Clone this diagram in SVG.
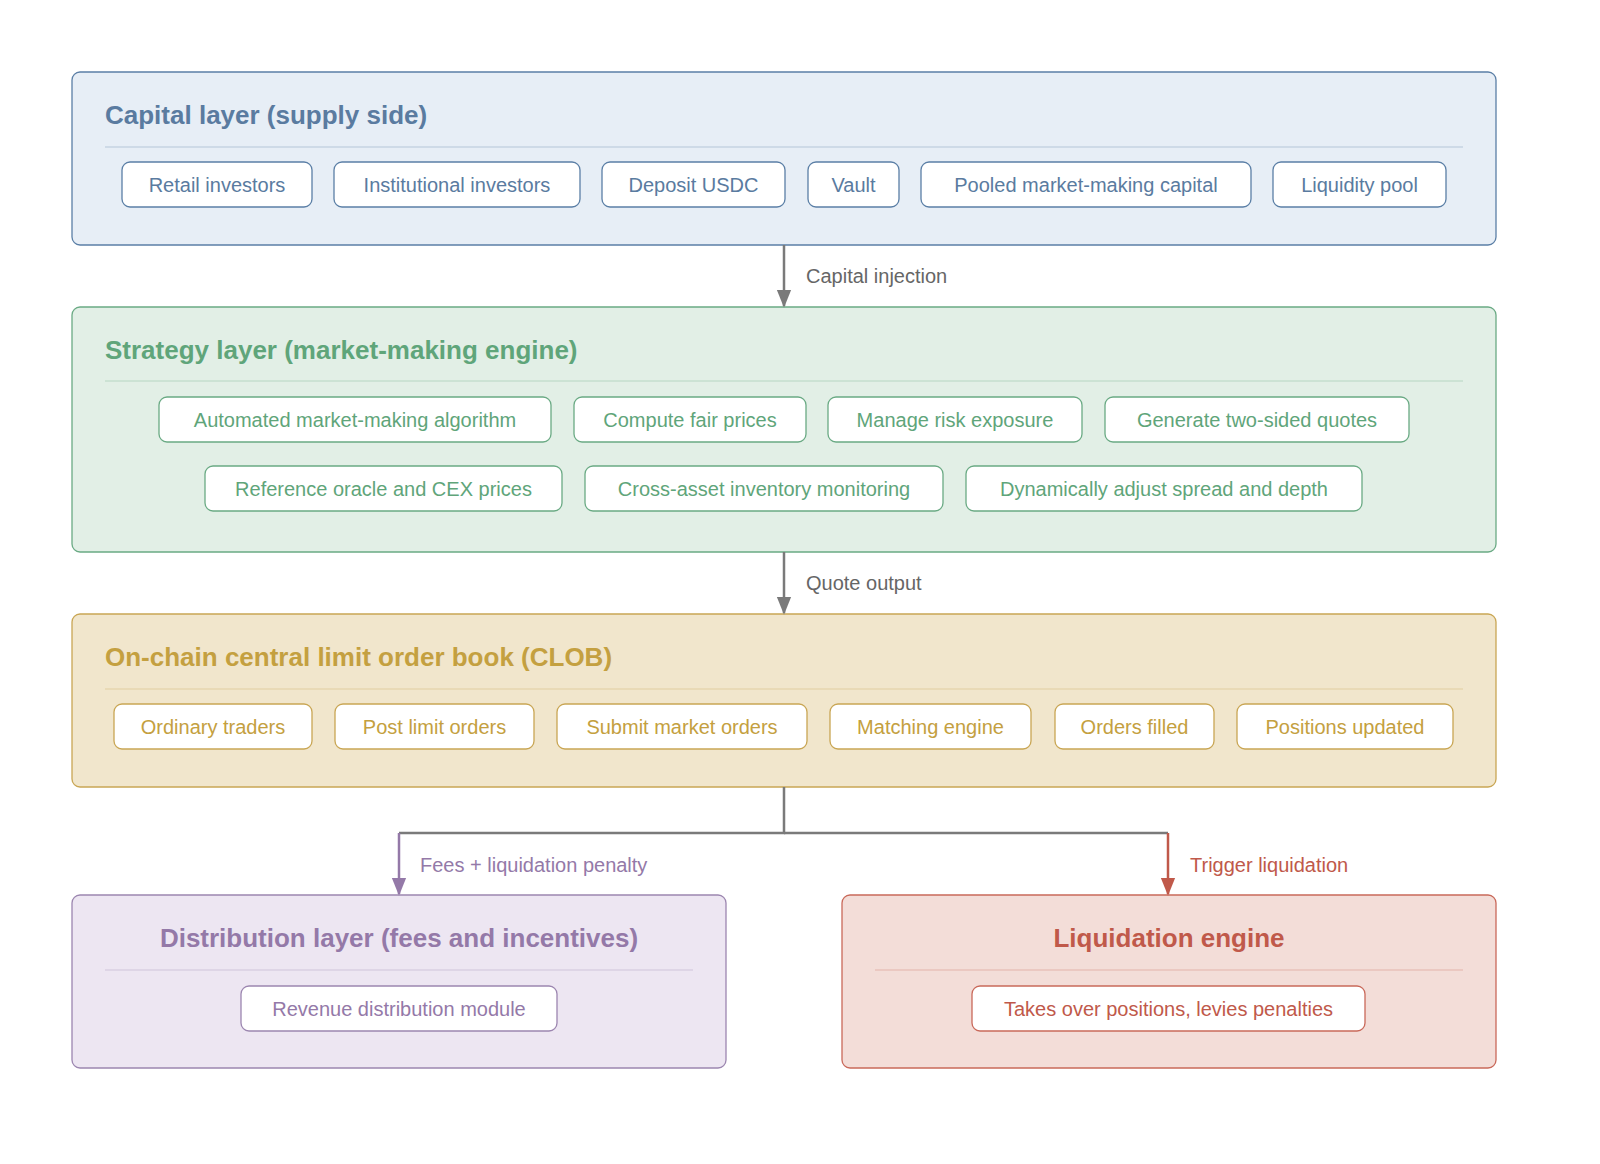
<svg xmlns="http://www.w3.org/2000/svg" width="1600" height="1164" viewBox="0 0 1600 1164">
<defs>
<marker id="ag" viewBox="0 0 10 10" refX="9" refY="5" markerWidth="18" markerHeight="18" markerUnits="userSpaceOnUse" orient="auto"><path d="M0,1 L10,5 L0,9 z" fill="#7a7a7a"/></marker>
<marker id="ap" viewBox="0 0 10 10" refX="9" refY="5" markerWidth="18" markerHeight="18" markerUnits="userSpaceOnUse" orient="auto"><path d="M0,1 L10,5 L0,9 z" fill="#9479a8"/></marker>
<marker id="ar" viewBox="0 0 10 10" refX="9" refY="5" markerWidth="18" markerHeight="18" markerUnits="userSpaceOnUse" orient="auto"><path d="M0,1 L10,5 L0,9 z" fill="#c0594a"/></marker>
</defs>
<style>
text{font-family:"Liberation Sans",Arial,sans-serif}
.t{font-size:26px;font-weight:bold}
.c{font-size:20px;text-anchor:middle;dominant-baseline:central}
.chip{fill:#fff;stroke-width:1.3}
.sep{stroke-width:1;opacity:.35}
.lbl{font-size:20px;fill:#666}
.b{stroke:#5b7fa6}.bt{fill:#5a7ba0}
.g{stroke:#6aaa84}.gt{fill:#5fa57a}
.y{stroke:#c9a654}.yt{fill:#c4a040}
.p{stroke:#9c86b0}.pt{fill:#9479a8}
.r{stroke:#c9695a}.rt{fill:#c0594a}
</style>
<rect width="1600" height="1164" fill="#fff"/>
<g id="capital">
<rect x="72" y="72" width="1424" height="173" rx="8" fill="#e7eef6" class="b" stroke-width="1.3"/>
<text x="105" y="124" class="t bt">Capital layer (supply side)</text>
<line x1="105" y1="147" x2="1463" y2="147" class="sep b"/>
<rect x="122" y="162" width="190" height="45" rx="8" class="chip b"/><text x="217" y="185" class="c bt">Retail investors</text>
<rect x="334" y="162" width="246" height="45" rx="8" class="chip b"/><text x="457" y="185" class="c bt">Institutional investors</text>
<rect x="602" y="162" width="183" height="45" rx="8" class="chip b"/><text x="693.5" y="185" class="c bt">Deposit USDC</text>
<rect x="808" y="162" width="91" height="45" rx="8" class="chip b"/><text x="853.5" y="185" class="c bt">Vault</text>
<rect x="921" y="162" width="330" height="45" rx="8" class="chip b"/><text x="1086" y="185" class="c bt">Pooled market-making capital</text>
<rect x="1273" y="162" width="173" height="45" rx="8" class="chip b"/><text x="1359.5" y="185" class="c bt">Liquidity pool</text>
</g>
<g id="strategy">
<rect x="72" y="307" width="1424" height="245" rx="8" fill="#e2efe6" class="g" stroke-width="1.3"/>
<text x="105" y="359" class="t gt">Strategy layer (market-making engine)</text>
<line x1="105" y1="381" x2="1463" y2="381" class="sep g"/>
<rect x="159" y="397" width="392" height="45" rx="8" class="chip g"/><text x="355" y="420" class="c gt">Automated market-making algorithm</text>
<rect x="574" y="397" width="232" height="45" rx="8" class="chip g"/><text x="690" y="420" class="c gt">Compute fair prices</text>
<rect x="828" y="397" width="254" height="45" rx="8" class="chip g"/><text x="955" y="420" class="c gt">Manage risk exposure</text>
<rect x="1105" y="397" width="304" height="45" rx="8" class="chip g"/><text x="1257" y="420" class="c gt">Generate two-sided quotes</text>
<rect x="205" y="466" width="357" height="45" rx="8" class="chip g"/><text x="383.5" y="489" class="c gt">Reference oracle and CEX prices</text>
<rect x="585" y="466" width="358" height="45" rx="8" class="chip g"/><text x="764" y="489" class="c gt">Cross-asset inventory monitoring</text>
<rect x="966" y="466" width="396" height="45" rx="8" class="chip g"/><text x="1164" y="489" class="c gt">Dynamically adjust spread and depth</text>
</g>
<g id="clob">
<rect x="72" y="614" width="1424" height="173" rx="8" fill="#f1e6cc" class="y" stroke-width="1.3"/>
<text x="105" y="666" class="t yt">On-chain central limit order book (CLOB)</text>
<line x1="105" y1="689" x2="1463" y2="689" class="sep y"/>
<rect x="114" y="704" width="198" height="45" rx="8" class="chip y"/><text x="213" y="727" class="c yt">Ordinary traders</text>
<rect x="335" y="704" width="199" height="45" rx="8" class="chip y"/><text x="434.5" y="727" class="c yt">Post limit orders</text>
<rect x="557" y="704" width="250" height="45" rx="8" class="chip y"/><text x="682" y="727" class="c yt">Submit market orders</text>
<rect x="830" y="704" width="201" height="45" rx="8" class="chip y"/><text x="930.5" y="727" class="c yt">Matching engine</text>
<rect x="1055" y="704" width="159" height="45" rx="8" class="chip y"/><text x="1134.5" y="727" class="c yt">Orders filled</text>
<rect x="1237" y="704" width="216" height="45" rx="8" class="chip y"/><text x="1345" y="727" class="c yt">Positions updated</text>
</g>
<g id="distribution">
<rect x="72" y="895" width="654" height="173" rx="8" fill="#ede6f2" class="p" stroke-width="1.3"/>
<text x="399" y="947" class="t pt" text-anchor="middle">Distribution layer (fees and incentives)</text>
<line x1="105" y1="970" x2="693" y2="970" class="sep p"/>
<rect x="241" y="986" width="316" height="45" rx="8" class="chip p"/><text x="399" y="1009" class="c pt">Revenue distribution module</text>
</g>
<g id="liquidation">
<rect x="842" y="895" width="654" height="173" rx="8" fill="#f3ddd8" class="r" stroke-width="1.3"/>
<text x="1169" y="947" class="t rt" text-anchor="middle">Liquidation engine</text>
<line x1="875" y1="970" x2="1463" y2="970" class="sep r"/>
<rect x="972" y="986" width="393" height="45" rx="8" class="chip r"/><text x="1168.5" y="1009" class="c rt">Takes over positions, levies penalties</text>
</g>
<g id="connectors" fill="none" stroke-width="2.5">
<path d="M784,245 V306" stroke="#7a7a7a" marker-end="url(#ag)"/>
<path d="M784,552 V613" stroke="#7a7a7a" marker-end="url(#ag)"/>
<path d="M784,787 V833 H399" stroke="#7a7a7a"/>
<path d="M784,833 H1168" stroke="#7a7a7a"/>
<path d="M399,833 V894" stroke="#9479a8" marker-end="url(#ap)"/>
<path d="M1168,833 V894" stroke="#c0594a" marker-end="url(#ar)"/>
<text x="806" y="283" class="lbl" stroke="none">Capital injection</text>
<text x="806" y="590" class="lbl" stroke="none">Quote output</text>
<text x="420" y="872" class="lbl" stroke="none" style="fill:#9479a8">Fees + liquidation penalty</text>
<text x="1190" y="872" class="lbl" stroke="none" style="fill:#c0594a">Trigger liquidation</text>
</g>
</svg>
